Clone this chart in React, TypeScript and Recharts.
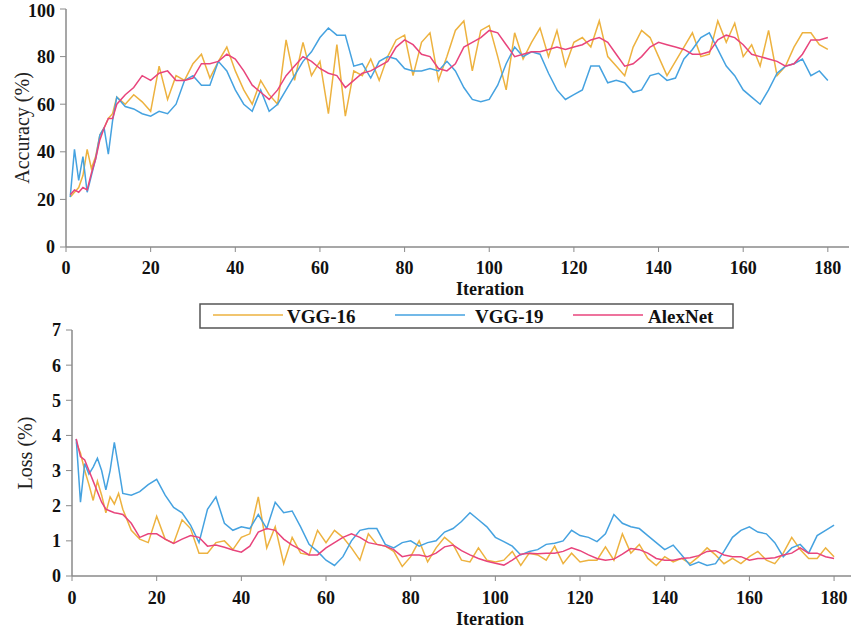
import React from 'react';
import { LineChart, Line, XAxis, YAxis } from 'recharts';

const iterations = [1, 2, 3, 4, 5, 6, 7, 8, 9, 10, 11, 12,
  14, 16, 18, 20, 22, 24, 26, 28, 30, 32, 34, 36, 38, 40, 42, 44, 46, 48, 50, 52,
  54, 56, 58, 60, 62, 64, 66, 68, 70, 72, 74, 76, 78, 80, 82, 84, 86, 88, 90, 92,
  94, 96, 98, 100, 102, 104, 106, 108, 110, 112, 114, 116, 118, 120, 122, 124, 126, 128, 130, 132,
  134, 136, 138, 140, 142, 144, 146, 148, 150, 152, 154, 156, 158, 160, 162, 164, 166, 168, 170, 172,
  174, 176, 178, 180];

const seriesNames = ['VGG-16', 'VGG-19', 'AlexNet'];
const seriesColors = ['#EDB23F', '#45A2E0', '#E8447C'];

const xTicks = [0, 20, 40, 60, 80, 100, 120, 140, 160, 180];
const accTicks = [0, 20, 40, 60, 80, 100];
const lossTicks = [0, 1, 2, 3, 4, 5, 6, 7];

const accVGG16 = [21, 23, 25, 30, 41, 33, 38, 47, 50, 54, 56, 63,
  60, 64, 61, 57, 76, 62, 72, 70, 77, 81,
  71, 78, 84, 74, 66, 60, 70, 64, 60, 87,
  70, 86, 72, 78, 56, 85, 55, 74, 72, 79,
  70, 80, 87, 89, 72, 86, 90, 70, 80, 91,
  95, 74, 91, 93, 80, 66, 90, 79, 86, 92,
  80, 91, 76, 86, 88, 84, 95, 80, 76, 72,
  84, 91, 88, 80, 72, 78, 84, 90, 80, 81,
  95, 86, 94, 80, 85, 76, 91, 72, 76, 84,
  90, 90, 85, 83];

const accVGG19 = [21, 41, 28, 38, 23, 30, 37, 47, 50, 39, 53, 63,
  59, 58, 56, 55, 57, 56, 60, 70, 72, 68,
  68, 78, 74, 66, 60, 57, 66, 57, 60, 66,
  72, 78, 82, 88, 92, 89, 89, 76, 77, 71,
  78, 80, 79, 75, 74, 74, 75, 74, 78, 74,
  67, 62, 61, 62, 68, 77, 84, 80, 82, 81,
  73, 66, 62, 64, 66, 76, 76, 69, 70, 69,
  65, 66, 72, 73, 70, 71, 79, 83, 88, 90,
  83, 76, 72, 66, 63, 60, 66, 73, 76, 77,
  79, 72, 74, 70];

const accAlexNet = [22, 24, 23, 25, 24, 31, 37, 45, 50, 54, 54, 60,
  64, 67, 72, 70, 73, 74, 70, 70, 71, 77,
  77, 78, 81, 79, 74, 68, 65, 62, 66, 72,
  76, 80, 78, 75, 73, 72, 67, 70, 73, 74,
  76, 78, 84, 87, 85, 81, 80, 75, 74, 77,
  84, 86, 88, 91, 90, 85, 80, 81, 82, 82,
  83, 84, 83, 84, 85, 87, 88, 86, 81, 76,
  77, 80, 84, 86, 85, 84, 83, 81, 81, 82,
  87, 89, 88, 85, 81, 80, 79, 78, 76, 77,
  81, 87, 87, 88];

const lossVGG16 = [3.8, 3.5, 3.0, 2.6, 2.15, 2.7, 2.3, 1.8, 2.25, 2.05, 2.35, 1.9,
  1.3, 1.05, 0.95, 1.7, 1.05, 0.93, 1.6, 1.35, 0.65, 0.65,
  0.95, 1.0, 0.75, 1.1, 1.2, 2.25, 0.8, 1.4, 0.35, 1.1,
  0.65, 0.6, 1.3, 0.95, 1.3, 1.1, 0.8, 0.45, 1.2, 0.9,
  0.85, 0.7, 0.27, 0.55, 1.0, 0.4, 0.8, 1.1, 0.9, 0.45,
  0.4, 0.8, 0.45, 0.4, 0.45, 0.7, 0.3, 0.65, 0.6, 0.45,
  0.85, 0.35, 0.65, 0.4, 0.45, 0.45, 0.83, 0.45, 1.2, 0.65,
  0.9, 0.5, 0.3, 0.55, 0.4, 0.5, 0.35, 0.55, 0.8, 0.6,
  0.35, 0.5, 0.35, 0.55, 0.7, 0.45, 0.35, 0.65, 1.1, 0.75,
  0.5, 0.5, 0.8, 0.55];

const lossVGG19 = [3.9, 2.1, 3.2, 2.9, 3.1, 3.35, 3.0, 2.45, 3.0, 3.8, 3.1, 2.35,
  2.3, 2.4, 2.6, 2.75, 2.3, 1.95, 1.8, 1.45, 0.95, 1.9,
  2.25, 1.5, 1.3, 1.4, 1.35, 1.75, 1.35, 2.1, 1.8, 1.85,
  1.4, 0.9, 0.7, 0.45, 0.3, 0.55, 1.0, 1.3, 1.35, 1.35,
  0.9, 0.8, 0.95, 1.0, 0.85, 0.95, 1.0, 1.25, 1.35, 1.55,
  1.8, 1.6, 1.4, 1.1, 0.98, 0.85, 0.6, 0.7, 0.75, 0.9,
  0.93, 1.0, 1.3, 1.15, 1.1, 0.98, 1.2, 1.75, 1.5, 1.4,
  1.35, 1.15, 0.95, 0.75, 0.88, 0.6, 0.3, 0.4, 0.3, 0.35,
  0.7, 1.1, 1.3, 1.4, 1.25, 1.2, 0.95, 0.55, 0.8, 0.9,
  0.65, 1.15, 1.3, 1.45];

const lossAlexNet = [3.9, 3.4, 3.3, 3.0, 2.7, 2.4, 2.1, 1.9, 1.85, 1.8, 1.78, 1.75,
  1.5, 1.1, 1.2, 1.2, 1.05, 0.93, 1.05, 1.15, 1.1, 0.85,
  0.88, 0.82, 0.74, 0.68, 0.85, 1.25, 1.35, 1.3, 1.05, 0.88,
  0.75, 0.6, 0.6, 0.8, 0.95, 1.1, 1.2, 1.1, 0.95, 0.9,
  0.85, 0.75, 0.55, 0.6, 0.6, 0.55, 0.65, 0.83, 0.88, 0.72,
  0.6, 0.5, 0.42, 0.36, 0.31, 0.45, 0.62, 0.65, 0.63, 0.65,
  0.65, 0.7, 0.8, 0.72, 0.6, 0.5, 0.45, 0.48, 0.62, 0.78,
  0.75, 0.65, 0.5, 0.45, 0.45, 0.5, 0.52, 0.58, 0.7, 0.72,
  0.6, 0.55, 0.55, 0.45, 0.5, 0.5, 0.52, 0.6, 0.65, 0.8,
  0.65, 0.65, 0.55, 0.5];

const accData = iterations.map((it, i) => ({ it, s0: accVGG16[i], s1: accVGG19[i], s2: accAlexNet[i] }));
const lossData = iterations.map((it, i) => ({ it, s0: lossVGG16[i], s1: lossVGG19[i], s2: lossAlexNet[i] }));

const AXIS = '#8a8a8a';
const FONT = '"Liberation Serif", "Times New Roman", serif';
const tickStyle = { fill: '#111', fontFamily: FONT, fontWeight: 700, fontSize: 18 };

const makeXLabel = (offset: number) => (props: any) => {
  const vb = props.viewBox || {};
  return (
    <text x={490} y={vb.y + offset} textAnchor="middle" fill="#111"
      style={{ fontFamily: FONT, fontWeight: 700, fontSize: 18 }}>Iteration</text>
  );
};
const TopXLabel = makeXLabel(48);
const BottomXLabel = makeXLabel(49);

const makeYLabel = (text: string, cx: number) => (props: any) => {
  const vb = props.viewBox || {};
  const cy = vb.y + vb.height / 2;
  return (
    <text x={cx} y={cy} transform={`rotate(-90 ${cx} ${cy})`} textAnchor="middle"
      dominantBaseline="central" fill="#222"
      style={{ fontFamily: FONT, fontWeight: 400, fontSize: 20 }}>{text}</text>
  );
};

const AccLabel = makeYLabel('Accuracy (%)', 22);
const LossLabel = makeYLabel('Loss (%)', 25);

const renderLines = () =>
  seriesNames.map((name, i) => (
    <Line key={name} type="linear" dataKey={`s${i}`} name={name} stroke={seriesColors[i]}
      strokeWidth={1.5} dot={false} isAnimationActive={false} />
  ));

const legendItems = [
  { lx: 14, tx: 88 },
  { lx: 196, tx: 276 },
  { lx: 374, tx: 449 },
];

export default function App() {
  return (
    <div style={{ position: 'absolute', left: 0, top: 0, width: 853, height: 633, background: '#fff' }}>
      <div style={{ position: 'absolute', left: 0, top: 0 }}>
        <LineChart width={853} height={300} data={accData} margin={{ top: 9, right: 4, bottom: 3, left: 0 }}>
          <XAxis dataKey="it" type="number" domain={[0, 185]} ticks={xTicks} allowDataOverflow
            height={50} tickSize={5} tickMargin={9} axisLine={{ stroke: AXIS, strokeWidth: 1.5 }}
            tickLine={{ stroke: AXIS }} tick={tickStyle} label={<TopXLabel />} />
          <YAxis type="number" domain={[0, 100]} ticks={accTicks} width={66} tickSize={6} tickMargin={5}
            axisLine={{ stroke: AXIS, strokeWidth: 1.5 }} tickLine={{ stroke: AXIS }} tick={tickStyle}
            label={<AccLabel />} />
          {renderLines()}
        </LineChart>
      </div>
      <div style={{ position: 'absolute', left: 0, top: 300 }}>
        <LineChart width={853} height={333} data={lossData} margin={{ top: 30, right: 2, bottom: 5, left: 0 }}>
          <XAxis dataKey="it" type="number" domain={[0, 184]} ticks={xTicks} allowDataOverflow
            height={52} tickSize={5} tickMargin={10} axisLine={{ stroke: AXIS, strokeWidth: 1.5 }}
            tickLine={{ stroke: AXIS }} tick={tickStyle} label={<BottomXLabel />} />
          <YAxis type="number" domain={[0, 7]} ticks={lossTicks} width={72} tickSize={6} tickMargin={5}
            axisLine={{ stroke: AXIS, strokeWidth: 1.5 }} tickLine={{ stroke: AXIS }} tick={tickStyle}
            label={<LossLabel />} />
          {renderLines()}
        </LineChart>
      </div>
      <svg style={{ position: 'absolute', left: 199, top: 303 }} width={537} height={27}>
        <rect x={1} y={1} width={533} height={24} fill="#fff" stroke="#555" strokeWidth={1.5} />
        {seriesNames.map((name, i) => (
          <g key={name}>
            <line x1={legendItems[i].lx} x2={legendItems[i].lx + 70} y1={12} y2={12}
              stroke={seriesColors[i]} strokeWidth={1.6} />
            <text x={legendItems[i].tx} y={20} fill="#111"
              style={{ fontFamily: FONT, fontWeight: 700, fontSize: 19 }}>{name}</text>
          </g>
        ))}
      </svg>
    </div>
  );
}
